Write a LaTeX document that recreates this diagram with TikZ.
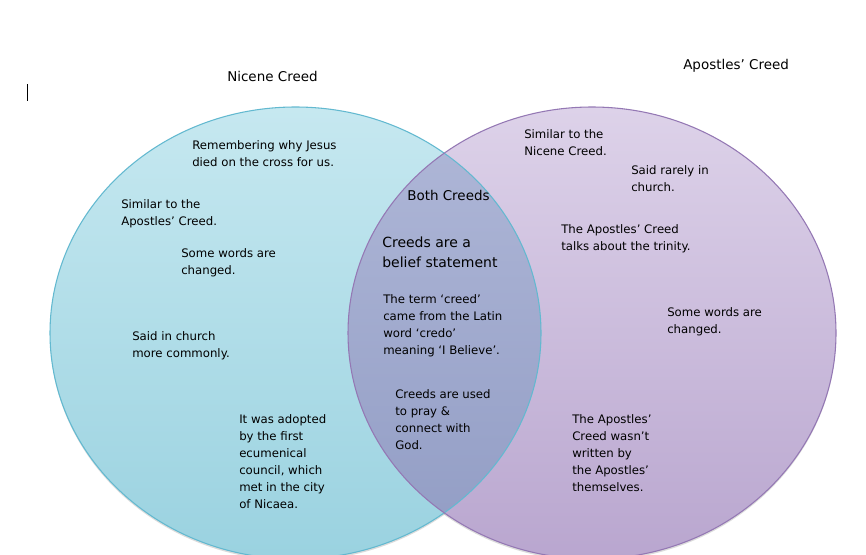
\documentclass[tikz,border=0pt]{standalone}
\usepackage{fontspec}
\setmainfont{DejaVu Sans}
\definecolor{ltop}{HTML}{C6E8F0}
\definecolor{lbot}{HTML}{9AD2E0}
\definecolor{rtop}{HTML}{DDD2E9}
\definecolor{rbot}{HTML}{B9A6CF}
\definecolor{otop}{HTML}{B0B8D8}
\definecolor{obot}{HTML}{919CC4}
\definecolor{ledge}{HTML}{63B9D0}
\definecolor{redge}{HTML}{9478B4}
\begin{document}
\begin{tikzpicture}[x=0.75pt,y=-0.75pt,
  body/.style={font=\fontsize{8.8}{12.75}\selectfont, align=left, inner sep=0pt, anchor=north west},
  ttl/.style={font=\fontsize{10.1}{12}\selectfont, inner sep=0pt, anchor=north west},
  big/.style={font=\fontsize{10.5}{15}\selectfont, align=left, inner sep=0pt, anchor=north west},
  shadowfill/.style={fill=black!40, opacity=0.35}]
\useasboundingbox (0,0) rectangle (866,554);
\clip (0,0) rectangle (866,554);
\fill[white] (0,0) rectangle (866,554);
% shadows
\fill[shadowfill] (295.5,335) ellipse [x radius=245.5, y radius=226];
\fill[shadowfill] (592,335) ellipse [x radius=244, y radius=226];
% left ellipse
\shade[top color=ltop, bottom color=lbot] (295.5,333) ellipse [x radius=245.5, y radius=226];
% right ellipse
\shade[top color=rtop, bottom color=rbot] (592,333) ellipse [x radius=244, y radius=226];
% overlap
\begin{scope}
  \clip (295.5,333) ellipse [x radius=245.5, y radius=226];
  \shade[top color=otop, bottom color=obot] (592,333) ellipse [x radius=244, y radius=226];
\end{scope}
% outlines
\draw[ledge, line width=0.8pt] (295.5,333) ellipse [x radius=245.5, y radius=226];
\draw[redge, line width=0.8pt] (592,333) ellipse [x radius=244, y radius=226];
% cursor
\coordinate (cur1) at (27,84);
\coordinate (cur2) at (27,101);
\draw[black, line width=0.75pt] (cur1) -- (cur2);
% titles
\node[ttl] (nic) at (227,71) {Nicene Creed};
\node[ttl] (apo) at (683,59) {Apostles’ Creed};
% left texts
\node[body] (t1) at (192,140) {Remembering why Jesus\\died on the cross for us.};
\node[body] (t2) at (121,199) {Similar to the\\Apostles’ Creed.};
\node[body] (t3) at (181,248) {Some words are\\changed.};
\node[body] (t4) at (132,331) {Said in church\\more commonly.};
\node[body] (t5) at (239,414) {It was adopted\\by the first\\ecumenical\\council, which\\met in the city\\of Nicaea.};
% middle texts
\node[ttl] (both) at (407,190) {Both Creeds};
\node[big] (c1) at (382,237) {Creeds are a\\belief statement};
\node[body] (c2) at (383,294) {The term ‘creed’\\came from the Latin\\word ‘credo’\\meaning ‘I Believe’.};
\node[body] (c3) at (395,389) {Creeds are used\\to pray \&\\connect with\\God.};
% right texts
\node[body] (r1) at (524,129) {Similar to the\\Nicene Creed.};
\node[body] (r2) at (631,165) {Said rarely in\\church.};
\node[body] (r3) at (561,224) {The Apostles’ Creed\\talks about the trinity.};
\node[body] (r4) at (667,307) {Some words are\\changed.};
\node[body] (r5) at (572,414) {The Apostles’\\Creed wasn’t\\written by\\the Apostles’\\themselves.};
\end{tikzpicture}
\end{document}
